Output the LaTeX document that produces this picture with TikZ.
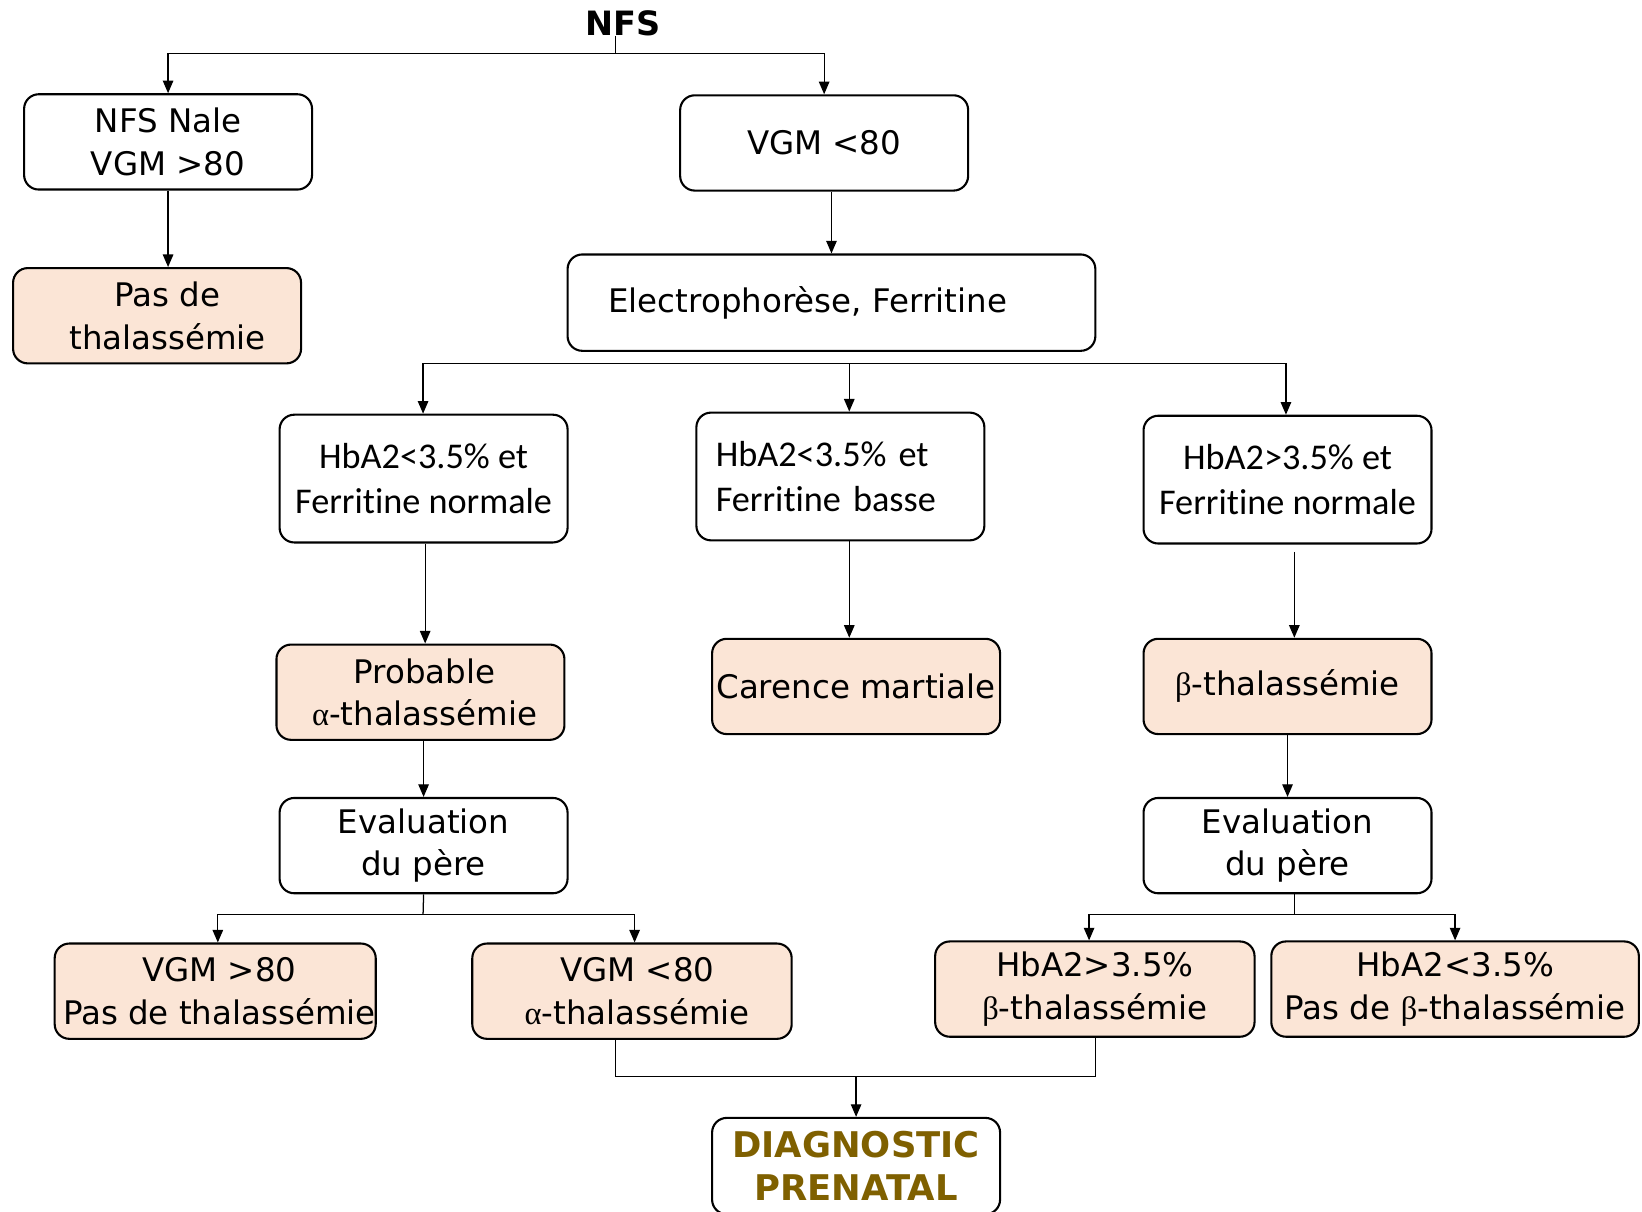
\documentclass[tikz,border=0pt]{standalone}
\usepackage{fontspec}
\setmainfont{DejaVu Sans}
\newfontfamily\calib[Ligatures={NoCommon}]{Carlito}
\newfontfamily\grk{Liberation Serif}
\usetikzlibrary{arrows.meta}
\definecolor{pinkfill}{HTML}{FBE5D6}
\definecolor{golddark}{HTML}{7F6000}
\tikzset{
  box/.style={draw, line width=1pt, rounded corners=7pt, minimum width=137.5pt,
    minimum height=45.5pt, align=center, inner sep=0pt,
    font=\fontsize{15.5}{20.3}\selectfont},
  wbox/.style={box, fill=white},
  pbox/.style={box, fill=pinkfill},
  cbox/.style={wbox, minimum height=61pt, font=\calib\fontsize{17.3}{21.5}\selectfont},
  arr/.style={-{Triangle[width=5pt,length=6pt]}, line width=0.6pt},
  ln/.style={line width=0.6pt}
}
\newcommand{\rs}[1]{\hspace*{#1}}
\begin{document}
\begin{tikzpicture}[x=0.5pt, y=-0.5pt]
\useasboundingbox (0,0) rectangle (1568,1157);
% top
\node[font=\bfseries\fontsize{16}{20}\selectfont, inner sep=0pt] (nfs) at (595,22) {NFS};
\coordinate (top) at (588,51);
\node[wbox] (A) at (160.5,135.5) {NFS Nale\\VGM >80};
\node[wbox] (B) at (787,136.5) {VGM <80};
\node[pbox] (C) at (150,301.5) {\rs{10pt}Pas de\\\rs{10pt}thalassémie};
\node[wbox, minimum width=252pt, minimum height=46pt, text width=213pt, align=left, inner xsep=19.5pt] (D) at (794,289) {Electrophorèse, Ferritine};
\node[cbox] (E) at (404.5,457) {HbA2<3.5\% et\\Ferritine normale};
\node[cbox, text width=119pt, align=left, inner xsep=9pt] (F) at (802.5,455) {HbA2<3.5\% et\\Ferritine basse};
\node[cbox] (G) at (1229.5,458) {HbA2>3.5\% et\\Ferritine normale};
\node[pbox] (H) at (401.5,661) {\rs{4pt}Probable\\\rs{4pt}{\grk α}-thalassémie};
\node[pbox] (I) at (817.5,655.5) {Carence martiale};
\node[pbox] (J) at (1229.5,655.5) {{\grk β}-thalassémie};
\node[wbox] (K) at (404.5,807.5) {Evaluation\\du père};
\node[wbox] (L) at (1229.5,807.5) {Evaluation\\du père};
\node[pbox, minimum width=152.5pt] (M) at (205.5,946.5) {\rs{4pt}VGM >80\\\rs{4pt}Pas de thalassémie};
\node[pbox, minimum width=152.5pt] (N) at (603.5,946.5) {\rs{5pt}VGM <80\\\rs{5pt}{\grk α}-thalassémie};
\node[pbox, minimum width=152.5pt] (O) at (1045.5,944.5) {HbA2>3.5\%\\{\grk β}-thalassémie};
\node[pbox, minimum width=175.5pt] (P) at (1389.5,944.5) {HbA2<3.5\%\\Pas de {\grk β}-thalassémie};
\node[wbox, minimum height=46pt, text=golddark, font=\bfseries\fontsize{16.9}{20.3}\selectfont] (Q) at (817.5,1113.5) {DIAGNOSTIC\\PRENATAL};
% connectors
\draw[ln] (nfs.south -| top) -- (top);
\draw[arr] (top) -| (A.north);
\draw[arr] (top) -| (B.north);
\draw[arr] (A.south) -- (A.south |- C.north);
\draw[arr] (D.north |- B.south) -- (D.north);
\coordinate (bl) at (404,347);
\coordinate (bm) at (811,347);
\coordinate (br) at (1228,347);
\draw[ln] (bl) -- (br);
\draw[arr] (bl) -- (bl |- E.north);
\draw[arr] (bm) -- (bm |- F.north);
\draw[arr] (br) -- (br |- G.north);
\draw[arr] ([xshift=0.75pt]E.south) -- ([xshift=0.75pt]E.south |- H.north);
\draw[arr] (bm |- F.south) -- (bm |- I.north);
\draw[arr] ([xshift=3.25pt,yshift=-3.5pt]G.south) -- ([xshift=3.25pt]G.south |- J.north);
\draw[arr] (K.north |- H.south) -- (K.north);
\draw[arr] (J.south) -- (L.north);
\coordinate (kj) at (404,873);
\draw[ln] (K.south) -- (kj);
\draw[arr] (kj) -| ([xshift=1.25pt]M.north);
\draw[arr] (kj) -| ([xshift=1.25pt]N.north);
\coordinate (lj) at (1236,873);
\draw[ln] ([xshift=3.25pt]L.south) -- (lj);
\draw[arr] (lj) -| ([xshift=-2.75pt]O.north);
\draw[arr] (lj) -| (P.north);
\coordinate (nb) at (588,1028);
\coordinate (ob) at (1046,1028);
\draw[ln] ([xshift=-7.75pt]N.south) -- (nb) -- (ob) -- (ob |- O.south);
\draw[arr] (Q.north |- nb) -- (Q.north);
\end{tikzpicture}
\end{document}
